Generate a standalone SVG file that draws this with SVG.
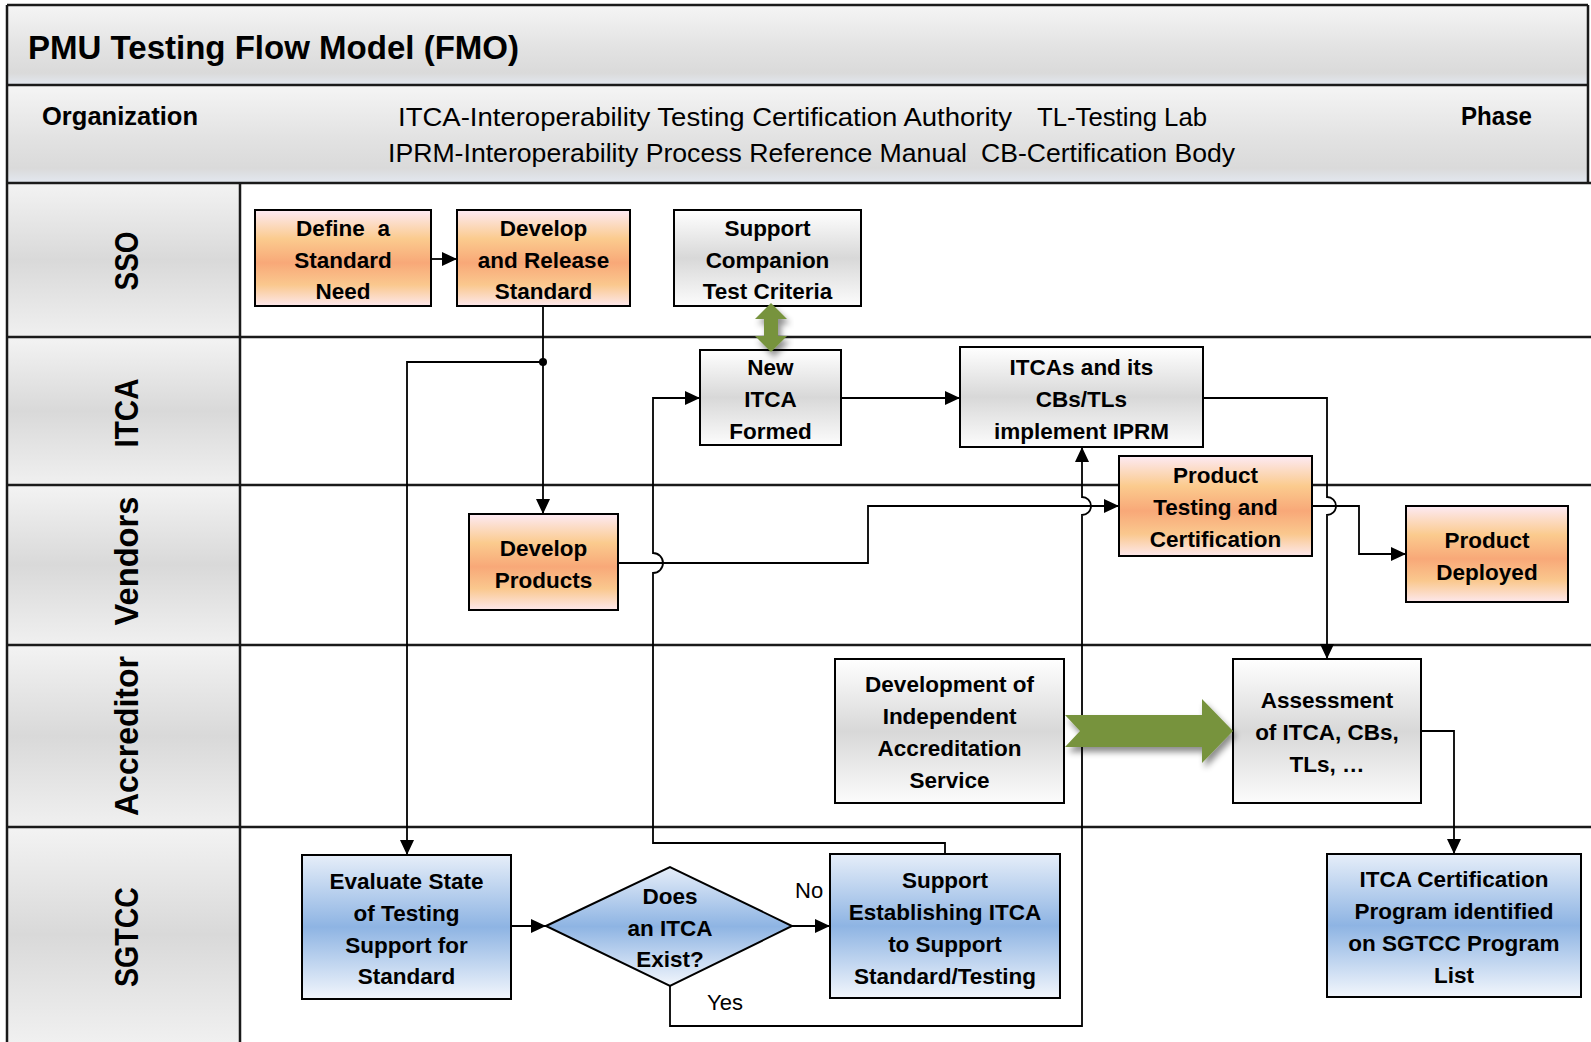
<svg xmlns="http://www.w3.org/2000/svg" width="1591" height="1042" viewBox="0 0 1591 1042">
<style>
  .band { stroke: none; }
  .sep { stroke: #1a1a1a; stroke-width: 2.5; fill: none; }
  .node { stroke: #000; stroke-width: 2; }
  .orange { fill: url(#gOrange); }
  .grey { fill: url(#gGrey); }
  .blue { fill: url(#gBlue); }
  .nt { font-family: "Liberation Sans", Arial, sans-serif; font-weight: bold; font-size: 22.5px; fill: #000; text-anchor: middle; }
  .lane { font-family: "Liberation Sans", Arial, sans-serif; font-weight: bold; font-size: 34px; fill: #000; text-anchor: middle; }
  .hdr { font-family: "Liberation Sans", Arial, sans-serif; font-size: 25px; fill: #000; }
  .hdrb { font-family: "Liberation Sans", Arial, sans-serif; font-size: 26px; font-weight: bold; fill: #000; }
  .title { font-family: "Liberation Sans", Arial, sans-serif; font-size: 33px; font-weight: bold; fill: #000; }
  .lbl { font-family: "Liberation Sans", Arial, sans-serif; font-size: 22px; fill: #000; }
  .conn { stroke: #000; stroke-width: 1.8; fill: none; }
  .arr { marker-end: url(#ah); }
  .green { fill: #77933C; filter: url(#shadow); }
</style>
<defs>
  <linearGradient id="gOrange" x1="0" y1="0" x2="0" y2="1">
    <stop offset="0" stop-color="#FDEAF4"/>
    <stop offset="0.3" stop-color="#FBCB8E"/>
    <stop offset="0.55" stop-color="#F8A878"/>
    <stop offset="0.78" stop-color="#FAC88E"/>
    <stop offset="1" stop-color="#FDE8EC"/>
  </linearGradient>
  <linearGradient id="gGrey" x1="0" y1="0" x2="0" y2="1">
    <stop offset="0" stop-color="#FFFFFF"/>
    <stop offset="0.5" stop-color="#D8D8D8"/>
    <stop offset="1" stop-color="#FCFCFC"/>
  </linearGradient>
  <linearGradient id="gBlue" x1="0" y1="0" x2="0" y2="1">
    <stop offset="0" stop-color="#E6EEF9"/>
    <stop offset="0.5" stop-color="#8EB4E3"/>
    <stop offset="1" stop-color="#F2F6FC"/>
  </linearGradient>
  <linearGradient id="gBand" x1="0" y1="0" x2="0" y2="1">
    <stop offset="0" stop-color="#F5F5F5"/>
    <stop offset="0.55" stop-color="#E2E2E2"/>
    <stop offset="0.85" stop-color="#DADADA"/>
    <stop offset="1" stop-color="#E3E8F0"/>
  </linearGradient>
  <linearGradient id="gLane" x1="0" y1="0" x2="0" y2="1">
    <stop offset="0" stop-color="#F3F3F3"/>
    <stop offset="0.5" stop-color="#D9D9D9"/>
    <stop offset="1" stop-color="#F0F0F0"/>
  </linearGradient>
  <marker id="ah" viewBox="0 0 15 14" refX="15" refY="7" markerWidth="15" markerHeight="14" markerUnits="userSpaceOnUse" orient="auto">
    <path d="M0,0 L15,7 L0,14 z" fill="#000"/>
  </marker>
  <filter id="shadow" x="-20%" y="-30%" width="140%" height="170%">
    <feDropShadow dx="3" dy="5" stdDeviation="3" flood-color="#000" flood-opacity="0.45"/>
  </filter>
</defs>

<g id="background">
  <rect x="0" y="0" width="1591" height="1042" fill="#FFFFFF"/>
  <rect class="band" x="7" y="5" width="1581" height="80" fill="url(#gBand)"/>
  <rect class="band" x="7" y="85" width="1581" height="98" fill="url(#gBand)"/>
  <rect class="band" x="7" y="183" width="233" height="154" fill="url(#gLane)"/>
  <rect class="band" x="7" y="337" width="233" height="148" fill="url(#gLane)"/>
  <rect class="band" x="7" y="485" width="233" height="160" fill="url(#gLane)"/>
  <rect class="band" x="7" y="645" width="233" height="182" fill="url(#gLane)"/>
  <rect class="band" x="7" y="827" width="233" height="215" fill="url(#gLane)"/>
</g>

<g id="frame">
  <path class="sep" d="M1588,5 V183" stroke-width="3"/>
  <path class="sep" d="M7,5 H1588" stroke-width="3"/>
  <path class="sep" d="M7,5 V1042" stroke-width="3"/>
  <path class="sep" d="M7,85 H1588"/>
  <path class="sep" d="M7,183 H1591"/>
  <path class="sep" d="M7,337 H1591"/>
  <path class="sep" d="M7,485 H1591"/>
  <path class="sep" d="M7,645 H1591"/>
  <path class="sep" d="M7,827 H1591"/>
  <path class="sep" d="M240,183 V1042"/>
</g>

<g id="header">
  <text class="title" x="28" y="59" textLength="491" lengthAdjust="spacingAndGlyphs">PMU Testing Flow Model (FMO)</text>
  <text class="hdrb" x="42" y="125" textLength="156" lengthAdjust="spacingAndGlyphs">Organization</text>
  <text class="hdr" x="398" y="126" textLength="614" lengthAdjust="spacingAndGlyphs">ITCA-Interoperability Testing Certification Authority</text>
  <text class="hdr" x="1037" y="126" textLength="170" lengthAdjust="spacingAndGlyphs">TL-Testing Lab</text>
  <text class="hdr" x="388" y="162" textLength="579" lengthAdjust="spacingAndGlyphs">IPRM-Interoperability Process Reference Manual</text>
  <text class="hdr" x="981" y="162" textLength="254" lengthAdjust="spacingAndGlyphs">CB-Certification Body</text>
  <text class="hdrb" x="1461" y="125" textLength="71" lengthAdjust="spacingAndGlyphs">Phase</text>
</g>

<g id="lanes">
  <text class="lane" transform="translate(138,261) rotate(-90)" textLength="59" lengthAdjust="spacingAndGlyphs">SSO</text>
  <text class="lane" transform="translate(138,413) rotate(-90)" textLength="69" lengthAdjust="spacingAndGlyphs">ITCA</text>
  <text class="lane" transform="translate(138,561) rotate(-90)" textLength="129" lengthAdjust="spacingAndGlyphs">Vendors</text>
  <text class="lane" transform="translate(138,736) rotate(-90)" textLength="160" lengthAdjust="spacingAndGlyphs">Accreditor</text>
  <text class="lane" transform="translate(138,937) rotate(-90)" textLength="100" lengthAdjust="spacingAndGlyphs">SGTCC</text>
</g>

<g id="connectors">
  <path class="conn arr" d="M431,259 H457"/>
  <path class="conn arr" d="M543,306 V514"/>
  <circle cx="543" cy="362" r="4" fill="#000"/>
  <path class="conn arr" d="M543,362 H407 V855"/>
  <path class="conn arr" d="M841,398 H960"/>
  <path class="conn arr" d="M945,854 V843 H653 V573 A10,10 0 0 0 653,553 V398 H700"/>
  <path class="conn arr" d="M618,563 H868 V506 H1119"/>
  <path class="conn arr" d="M670,986 V1026 H1082 V515 A9,9 0 0 0 1082,497 V447"/>
  <path class="conn arr" d="M1203,398 H1327 V497 A9,9 0 0 1 1327,515 V659"/>
  <path class="conn arr" d="M1312,506 H1359 V554 H1406"/>
  <path class="conn arr" d="M1421,731 H1454 V854"/>
  <path class="conn arr" d="M511,926 H546"/>
  <path class="conn arr" d="M792,926 H830"/>
  <text class="lbl" x="795" y="898">No</text>
  <text class="lbl" x="707" y="1010">Yes</text>
</g>

<g id="n-define">
  <rect class="node orange" x="255" y="210" width="176" height="96"/>
  <text class="nt" x="343" y="236" xml:space="preserve">Define  a</text>
  <text class="nt" x="343" y="268">Standard</text>
  <text class="nt" x="343" y="299">Need</text>
</g>
<g id="n-develop-release">
  <rect class="node orange" x="457" y="210" width="173" height="96"/>
  <text class="nt" x="543.5" y="236">Develop</text>
  <text class="nt" x="543.5" y="268">and Release</text>
  <text class="nt" x="543.5" y="299">Standard</text>
</g>
<g id="n-support-companion">
  <rect class="node grey" x="674" y="210" width="187" height="96"/>
  <text class="nt" x="767.5" y="236">Support</text>
  <text class="nt" x="767.5" y="268">Companion</text>
  <text class="nt" x="767.5" y="299">Test Criteria</text>
</g>
<g id="n-new-itca">
  <rect class="node grey" x="700" y="350" width="141" height="95"/>
  <text class="nt" x="770.5" y="375">New</text>
  <text class="nt" x="770.5" y="407">ITCA</text>
  <text class="nt" x="770.5" y="439">Formed</text>
</g>
<g id="n-itcas-implement">
  <rect class="node grey" x="960" y="347" width="243" height="100"/>
  <text class="nt" x="1081.5" y="375">ITCAs and its</text>
  <text class="nt" x="1081.5" y="407">CBs/TLs</text>
  <text class="nt" x="1081.5" y="439">implement IPRM</text>
</g>
<g id="n-product-testing">
  <rect class="node orange" x="1119" y="456" width="193" height="100"/>
  <text class="nt" x="1215.5" y="483">Product</text>
  <text class="nt" x="1215.5" y="515">Testing and</text>
  <text class="nt" x="1215.5" y="547">Certification</text>
</g>
<g id="n-develop-products">
  <rect class="node orange" x="469" y="514" width="149" height="96"/>
  <text class="nt" x="543.5" y="556">Develop</text>
  <text class="nt" x="543.5" y="588">Products</text>
</g>
<g id="n-product-deployed">
  <rect class="node orange" x="1406" y="506" width="162" height="96"/>
  <text class="nt" x="1487" y="548">Product</text>
  <text class="nt" x="1487" y="580">Deployed</text>
</g>
<g id="n-accreditation">
  <rect class="node grey" x="835" y="659" width="229" height="144"/>
  <text class="nt" x="949.5" y="692">Development of</text>
  <text class="nt" x="949.5" y="724">Independent</text>
  <text class="nt" x="949.5" y="756">Accreditation</text>
  <text class="nt" x="949.5" y="788">Service</text>
</g>
<g id="n-assessment">
  <rect class="node grey" x="1233" y="659" width="188" height="144"/>
  <text class="nt" x="1327" y="708">Assessment</text>
  <text class="nt" x="1327" y="740">of ITCA, CBs,</text>
  <text class="nt" x="1327" y="772">TLs, …</text>
</g>
<g id="n-evaluate">
  <rect class="node blue" x="302" y="855" width="209" height="144"/>
  <text class="nt" x="406.5" y="889">Evaluate State</text>
  <text class="nt" x="406.5" y="921">of Testing</text>
  <text class="nt" x="406.5" y="953">Support for</text>
  <text class="nt" x="406.5" y="984">Standard</text>
</g>
<g id="n-decision">
  <polygon class="node blue" points="546,926 670,867 792,926 670,986"/>
  <text class="nt" x="670" y="904">Does</text>
  <text class="nt" x="670" y="936">an ITCA</text>
  <text class="nt" x="670" y="967">Exist?</text>
</g>
<g id="n-support-establishing">
  <rect class="node blue" x="830" y="854" width="230" height="144"/>
  <text class="nt" x="945" y="888">Support</text>
  <text class="nt" x="945" y="920">Establishing ITCA</text>
  <text class="nt" x="945" y="952">to Support</text>
  <text class="nt" x="945" y="984">Standard/Testing</text>
</g>
<g id="n-itca-cert">
  <rect class="node blue" x="1327" y="854" width="254" height="143"/>
  <text class="nt" x="1454" y="887">ITCA Certification</text>
  <text class="nt" x="1454" y="919">Program identified</text>
  <text class="nt" x="1454" y="951">on SGTCC Program</text>
  <text class="nt" x="1454" y="983">List</text>
</g>

<g id="green-arrows">
  <polygon class="green" points="771,303 787,319 778,319 778,336 787,336 771,352 755,336 764,336 764,319 755,319"/>
  <polygon class="green" points="1065,715 1202,715 1202,699 1233,731 1202,763 1202,747 1065,747 1080,731"/>
</g>
</svg>
